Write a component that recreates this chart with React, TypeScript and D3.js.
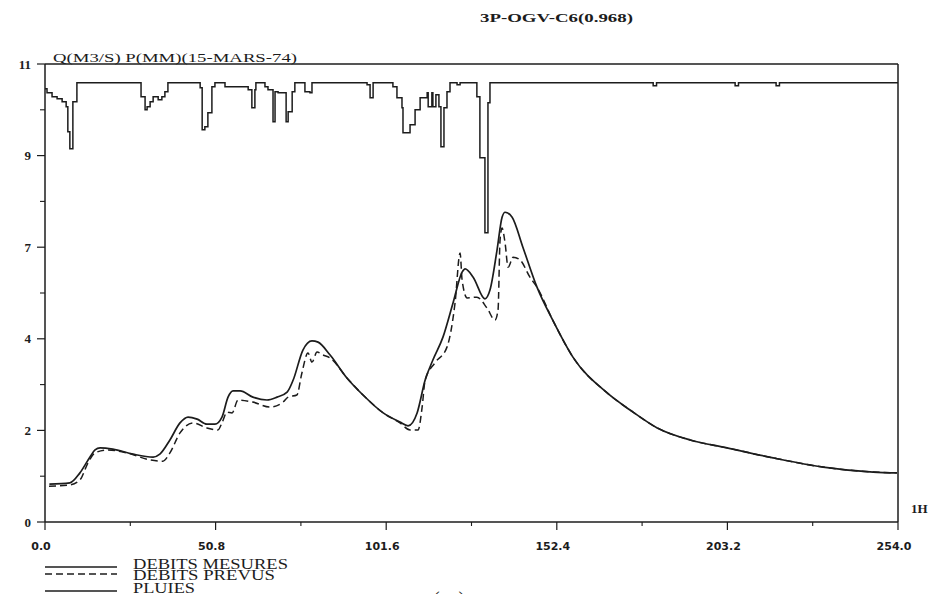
import * as d3 from "d3";

const mesuresHours = [1.3, 7.4, 10.4, 13.4, 14.9, 16.4, 20.2, 26.2, 32.2, 34.2, 37.2, 40.2, 42.6, 45.3, 48.2, 50.6, 52.7, 54.5, 56.0, 58.1, 61.9, 66.1, 69.1, 72.1, 73.9, 76.8, 79.5, 81.3, 84.9, 89.9, 94.7, 100.7, 105.7, 108.1, 110.8, 113.2, 115.5, 118.5, 121.5, 124.2, 125.1, 127.5, 131.0, 132.5, 134.6, 136.1, 137.0, 139.1, 142.3, 146.5, 151.3, 157.2, 167.4, 174.2, 182.3, 192.1, 203.1, 216.8, 231.7, 246.6, 253.7];
const mesuresQ = [0.91, 0.94, 1.18, 1.56, 1.73, 1.78, 1.75, 1.63, 1.56, 1.63, 1.97, 2.38, 2.52, 2.47, 2.35, 2.35, 2.52, 3.0, 3.15, 3.15, 3.0, 2.93, 3.0, 3.12, 3.41, 4.13, 4.35, 4.32, 4.01, 3.46, 3.05, 2.62, 2.4, 2.31, 2.62, 3.41, 3.89, 4.44, 5.26, 6.0, 6.08, 5.88, 5.36, 5.57, 6.53, 7.32, 7.44, 7.32, 6.6, 5.64, 4.83, 3.96, 3.1, 2.69, 2.26, 1.97, 1.78, 1.54, 1.32, 1.2, 1.18];

const prevusHours = [1.2, 7.4, 10.4, 12.8, 14.9, 18.5, 24.4, 31.3, 35.1, 37.2, 40.2, 44.1, 48.2, 51.5, 52.7, 54.2, 55.7, 57.5, 61.9, 67.0, 70.9, 72.4, 75.0, 76.5, 78.3, 79.5, 81.0, 82.8, 84.9, 89.9, 94.7, 100.7, 105.7, 108.7, 111.1, 112.3, 113.2, 116.1, 119.7, 122.1, 123.6, 124.2, 125.7, 128.6, 131.6, 134.0, 134.9, 135.5, 136.1, 137.0, 137.9, 139.4, 141.5, 144.4, 146.5, 151.3, 157.2, 167.4, 174.2, 182.3, 192.1, 203.1, 216.8, 231.7, 246.6, 253.7];
const prevusQ = [0.86, 0.89, 1.01, 1.42, 1.66, 1.73, 1.66, 1.49, 1.46, 1.66, 2.14, 2.38, 2.26, 2.21, 2.38, 2.64, 2.62, 2.93, 2.88, 2.76, 2.88, 3.0, 3.05, 3.58, 4.06, 3.84, 4.08, 4.01, 3.94, 3.46, 3.05, 2.62, 2.38, 2.21, 2.21, 2.76, 3.41, 3.82, 4.2, 5.26, 6.46, 5.81, 5.38, 5.4, 5.14, 4.85, 5.09, 6.77, 7.06, 6.7, 6.12, 6.36, 6.29, 5.88, 5.64, 4.83, 3.96, 3.1, 2.69, 2.26, 1.97, 1.78, 1.54, 1.32, 1.2, 1.18];

// rain (mm), step starts in hours
const pluieHours = [0, 0.6, 2.1, 3.6, 5.1, 6.3, 6.8, 7.4, 8.3, 9.5, 28.6, 29.8, 30.4, 31.3, 32.2, 33.7, 34.8, 35.7, 36.6, 46.2, 46.8, 47.6, 48.5, 49.7, 50.6, 53.6, 60.5, 61.6, 62.5, 62.8, 65.5, 66.4, 67.9, 68.5, 69.4, 71.8, 72.4, 73.6, 74.4, 77.4, 78.9, 79.5, 95.9, 96.8, 97.7, 103.6, 104.8, 106.3, 106.6, 108.7, 110.2, 111.7, 113.8, 114.1, 115.2, 115.5, 116.4, 117.3, 117.9, 118.8, 119.7, 120.6, 122.7, 123.6, 128.6, 129.5, 131.0, 131.9, 132.5, 181.1, 182.1, 205.5, 206.5, 217.7, 218.7, 254];
const pluieMm = [0.6, 1.0, 1.4, 1.6, 1.9, 2.4, 4.9, 6.6, 1.9, 0, 1.4, 2.7, 2.4, 1.9, 1.4, 1.7, 1.4, 0.9, 0, 0.5, 4.7, 4.4, 3.0, 0.4, 0, 0.4, 0.7, 2.5, 0.7, 0, 0.4, 0.7, 3.9, 0.9, 1.0, 3.9, 2.9, 0.9, 0, 0.9, 1.0, 0, 0.2, 1.5, 0, 0.4, 1.5, 2.5, 5.0, 4.2, 2.7, 1.5, 1.0, 2.4, 1.0, 2.4, 1.2, 2.4, 6.4, 2.5, 0.9, 0, 0.2, 0, 1.4, 7.5, 15.0, 2.0, 0, 0.3, 0, 0.3, 0, 0.3, 0, 0];

const xTickValues = [0, 50.8, 101.6, 152.4, 203.2, 254.0];
const xTickLabels = ["0.0", "50.8", "101.6", "152.4", "203.2", "254.0"];
const xMinorValues = [25.4, 76.2, 127.0, 177.8, 228.6];
const yTickValues = [0, 2.2, 4.4, 6.6, 8.8, 11];
const yTickLabels = ["0", "2", "4", "7", "9", "11"];
const yMinorValues = [1.1, 3.3, 5.5, 7.7, 9.9];

const legendLabels = ["DEBITS MESURES", "DEBITS PREVUS", "PLUIES"];

const INK = "#1c1c1c";

export default function App() {
  const width = 932;
  const height = 594;
  const x = d3.scaleLinear().domain([0, 254]).range([45, 898]);
  const y = d3.scaleLinear().domain([0, 11]).range([522, 64]);
  const rainTop = y(10.55);
  const yRain = d3.scaleLinear().domain([0, 15]).range([rainTop, rainTop + 150]);

  const flowLine = d3
    .line<[number, number]>()
    .x((d) => x(d[0]))
    .y((d) => y(d[1]))
    .curve(d3.curveMonotoneX);

  const rainLine = d3
    .line<[number, number]>()
    .x((d) => x(d[0]))
    .y((d) => yRain(d[1]))
    .curve(d3.curveStepAfter);

  const mesures = mesuresHours.map((h, i) => [h, mesuresQ[i]] as [number, number]);
  const prevus = prevusHours.map((h, i) => [h, prevusQ[i]] as [number, number]);
  const pluies = pluieHours.map((h, i) => [h, pluieMm[i]] as [number, number]);

  const serif = "'Liberation Serif', 'DejaVu Serif', serif";
  const sans = "'DejaVu Sans', sans-serif";

  return (
    <svg
      width={width}
      height={height}
      viewBox={`0 0 ${width} ${height}`}
      style={{ position: "absolute", left: 0, top: 0, background: "#fff" }}
    >
      <text x={480} y={22} fontFamily={serif} fontWeight="bold" fontSize={12} fill={INK} textLength={153} lengthAdjust="spacingAndGlyphs">
        3P-OGV-C6(0.968)
      </text>
      <text x={53} y={62} fontFamily={serif} fontSize={13} fill={INK} textLength={244} lengthAdjust="spacingAndGlyphs">
        Q(M3/S) P(MM)(15-MARS-74)
      </text>

      {/* frame */}
      <g stroke={INK} strokeWidth={1.5} fill="none">
        <line x1={x(0)} x2={x(254)} y1={y(11)} y2={y(11)} />
        <line x1={x(254)} x2={x(254)} y1={y(11)} y2={y(0)} />
        <line x1={x(0)} x2={x(0)} y1={y(11)} y2={y(0)} />
        <line x1={x(0)} x2={x(254)} y1={y(0)} y2={y(0)} />
      </g>

      {/* y axis ticks */}
      {yTickValues.map((v, i) => (
        <g key={`y${i}`}>
          <line x1={x(0) - 8} x2={x(0)} y1={y(v)} y2={y(v)} stroke={INK} strokeWidth={1.2} />
          <text x={31} y={y(v) + 4.5} textAnchor="end" fontFamily={serif} fontWeight="bold" fontSize={13} fill={INK}>
            {yTickLabels[i]}
          </text>
        </g>
      ))}
      {yMinorValues.map((v) => (
        <line key={`ym${v}`} x1={x(0) - 5} x2={x(0)} y1={y(v)} y2={y(v)} stroke={INK} strokeWidth={1.1} />
      ))}

      {/* x axis ticks */}
      {xTickValues.map((v, i) => (
        <g key={`x${i}`}>
          <line x1={x(v)} x2={x(v)} y1={y(0)} y2={y(0) + 8} stroke={INK} strokeWidth={1.2} />
          <text x={x(v) - 4} y={550} textAnchor="middle" fontFamily={sans} fontWeight="bold" fontSize={11} fill={INK}>
            {xTickLabels[i]}
          </text>
        </g>
      ))}
      {xMinorValues.map((v) => (
        <line key={`xm${v}`} x1={x(v)} x2={x(v)} y1={y(0)} y2={y(0) + 4} stroke={INK} strokeWidth={1.1} />
      ))}
      <text x={911} y={513} fontFamily={serif} fontWeight="bold" fontSize={13} fill={INK}>
        1H
      </text>

      {/* series */}
      <path d={rainLine(pluies) ?? ""} fill="none" stroke={INK} strokeWidth={1.5} />
      <path d={flowLine(prevus) ?? ""} fill="none" stroke={INK} strokeWidth={1.5} strokeDasharray="7 4" />
      <path d={flowLine(mesures) ?? ""} fill="none" stroke={INK} strokeWidth={1.7} />

      {/* legend */}
      <g>
        <line x1={45} x2={117} y1={567} y2={567} stroke={INK} strokeWidth={1.5} />
        <line x1={45} x2={117} y1={574} y2={574} stroke={INK} strokeWidth={1.5} strokeDasharray="7 4" />
        <line x1={45} x2={117} y1={591} y2={591} stroke={INK} strokeWidth={1.5} />
        <text x={133} y={569} fontFamily={serif} fontSize={15} fill={INK} textLength={155} lengthAdjust="spacingAndGlyphs">
          {legendLabels[0]}
        </text>
        <text x={133} y={580} fontFamily={serif} fontSize={15} fill={INK} textLength={142} lengthAdjust="spacingAndGlyphs">
          {legendLabels[1]}
        </text>
        <text x={133} y={593} fontFamily={serif} fontSize={15} fill={INK} textLength={62} lengthAdjust="spacingAndGlyphs">
          {legendLabels[2]}
        </text>
      </g>
      <text x={433} y={606} fontFamily={serif} fontSize={20} fill={INK}>
        ( a )
      </text>
    </svg>
  );
}
